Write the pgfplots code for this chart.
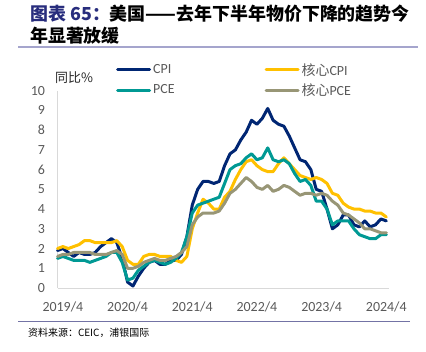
\documentclass[border=0pt]{standalone}
\usepackage{fontspec}
\setmainfont{Carlito}
\newfontfamily\cjk{Noto Sans CJK SC}
\usepackage{pgfplots}
\usepackage{pgfplotstable}
\pgfplotsset{compat=1.18}
\definecolor{cpi}{RGB}{0,38,115}
\definecolor{ccpi}{RGB}{255,192,0}
\definecolor{pce}{RGB}{0,153,148}
\definecolor{cpce}{RGB}{152,150,118}
\definecolor{tickgray}{RGB}{89,89,89}
\definecolor{titleblue}{RGB}{40,45,125}
\definecolor{ruleA}{RGB}{165,165,205}
\definecolor{ruleB}{RGB}{115,115,165}

\pgfplotstableread{
i cpi core pce cpce
-1 1.9 2.0 1.5 1.6
0 2.0 2.1 1.6 1.7
1 1.8 2.0 1.5 1.7
2 1.6 2.1 1.4 1.8
3 1.8 2.2 1.4 1.8
4 1.7 2.4 1.4 1.8
5 1.7 2.4 1.3 1.8
6 1.8 2.3 1.4 1.7
7 2.1 2.3 1.5 1.7
8 2.3 2.3 1.6 1.7
9 2.5 2.3 1.8 1.8
10 2.3 2.4 1.8 1.9
11 1.5 2.1 1.3 1.7
12 0.3 1.4 0.4 1.0
13 0.1 1.2 0.5 1.0
14 0.6 1.2 0.9 1.1
15 1.0 1.6 1.1 1.3
16 1.3 1.7 1.3 1.4
17 1.4 1.7 1.4 1.5
18 1.2 1.6 1.3 1.4
19 1.2 1.6 1.2 1.4
20 1.4 1.6 1.3 1.5
21 1.4 1.4 1.5 1.6
22 1.7 1.3 1.8 1.8
23 2.6 1.6 2.6 2.1
24 4.2 3.0 3.8 3.2
25 5.0 3.8 4.2 3.6
26 5.4 4.5 4.3 3.8
27 5.4 4.3 4.4 3.8
28 5.3 4.0 4.5 3.8
29 5.4 4.0 4.6 3.9
30 6.2 4.6 5.3 4.3
31 6.8 4.9 6.0 4.8
32 7.0 5.5 6.2 5.0
33 7.5 6.0 6.3 5.3
34 7.9 6.4 6.6 5.6
35 8.5 6.5 6.8 5.4
36 8.3 6.2 6.5 5.1
37 8.6 6.0 6.6 5.0
38 9.1 5.9 7.1 5.2
39 8.5 5.9 6.5 4.9
40 8.3 6.3 6.4 5.0
41 8.2 6.6 6.5 5.2
42 7.7 6.3 6.3 5.1
43 7.1 6.0 5.8 4.9
44 6.5 5.7 5.4 4.7
45 6.4 5.6 5.5 4.8
46 6.0 5.5 5.2 4.8
47 5.0 5.6 4.4 4.7
48 4.9 5.5 4.4 4.8
49 4.0 5.3 4.0 4.7
50 3.0 4.8 3.2 4.4
51 3.2 4.7 3.4 4.2
52 3.7 4.3 3.4 3.8
53 3.7 4.1 3.4 3.7
54 3.2 4.0 3.0 3.5
55 3.1 4.0 2.7 3.3
56 3.4 3.9 2.6 3.0
57 3.1 3.9 2.5 3.0
58 3.2 3.8 2.5 2.9
59 3.5 3.8 2.7 2.8
60 3.4 3.6 2.7 2.8
}\data

\begin{document}
\begin{tikzpicture}[x=1bp,y=1bp]
\path (0,0) rectangle (426,352);
% title
\node[anchor=west, font=\cjk\bfseries\fontsize{18}{20}\selectfont, inner sep=0] at (30,338.5) {\textcolor{titleblue}{图表 65：}美国——去年下半年物价下降的趋势今};
\node[anchor=west, font=\cjk\bfseries\fontsize{18}{20}\selectfont, inner sep=0] at (30,316) {年显著放缓};
\draw[color=ruleA, line width=1.2bp] (18,305) -- (418,305);
\draw[color=ruleB, line width=1bp] (18,30.5) -- (410,30.5);
\node[anchor=west, font=\cjk\fontsize{10}{12}\selectfont, inner sep=0] at (28,19) {资料来源：CEIC，浦银国际};
\node[anchor=west, font=\cjk\fontsize{13}{15}\selectfont, inner sep=0, text=black!85] at (55,274) {同比\%};

\begin{axis}[
  at={(57.5bp,64bp)}, anchor=south west,
  scale only axis, width=331.5bp, height=197.3bp,
  xmin=-1, xmax=60.5, ymin=0, ymax=10,
  clip=false,
  axis x line*=bottom, axis y line*=left,
  axis line style={-, draw=black!15, line width=1bp},
  major tick length=0pt,
  xtick={0,12,24,36,48,60},
  xticklabels={2019/4,2020/4,2021/4,2022/4,2023/4,2024/4},
  ytick={0,1,2,3,4,5,6,7,8,9,10},
  /pgf/number format/assume math mode=true,
  tick label style={font=\fontsize{14}{16}\selectfont, text=tickgray},
  yticklabel style={xshift=-9bp},
  xticklabel style={yshift=-10bp},
  legend columns=2,
  legend style={draw=none, fill=none, at={(0.1765,1.15)}, anchor=north west,
    font=\fontsize{14}{15}\selectfont, text=tickgray, inner sep=0pt,
    /tikz/every even column/.append style={column sep=88bp},
    row sep=3bp},
  legend cell align=left,
  legend image code/.code={\draw[line width=3bp] (0bp,0bp) -- (32bp,0bp);},
  every axis plot/.append style={line width=3bp, line join=round, line cap=round},
]
\addplot[cpi] table[x=i, y=cpi] {\data};
\addlegendentry{CPI}
\addplot[ccpi] table[x=i, y=core] {\data};
\addlegendentry{{\cjk 核心}CPI}
\addplot[pce] table[x=i, y=pce] {\data};
\addlegendentry{PCE}
\addplot[cpce] table[x=i, y=cpce] {\data};
\addlegendentry{{\cjk 核心}PCE}
\end{axis}
\end{tikzpicture}
\end{document}
